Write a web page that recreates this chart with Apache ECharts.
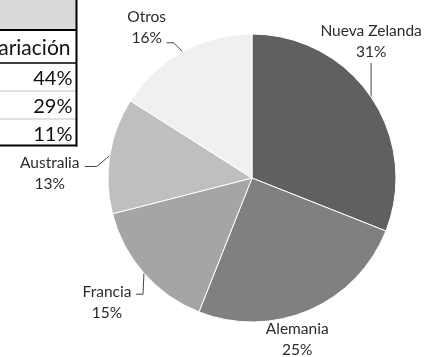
<!DOCTYPE html>
<html>
<head>
<meta charset="utf-8">
<script src="https://cdn.jsdelivr.net/npm/echarts@6/dist/echarts.min.js"></script>
<style>
  html, body { margin: 0; padding: 0; background: #fff; }
  #chart { width: 425px; height: 357px; }
</style>
</head>
<body>
<div id="chart"></div>
<script>
// Pie data: share by country
const countries = ['Nueva Zelanda', 'Alemania', 'Francia', 'Australia', 'Otros'];
const shares = [31, 25, 15, 13, 16];

// Side table column
const tableHeader = 'Variación';
const tableValues = ['44%', '29%', '11%'];

const sliceColors = ['#606060', '#808080', '#a5a5a5', '#bfbfbf', '#f0f0f0'];

// Label placement relative to the slice's outer edge point:
// [label dx, label dy, elbow dx, elbow dy, end dx, end dy]
const labelPlacement = [
  [0, -56, 0, -34, 0, -34],
  [-12, 29, 0, 0, 0, 0],
  [-37, 29, -1, 21, -8, 21],
  [-60, 18, -13, 11, -25, 11],
  [-36, -24, -9, -9, -16, -9]
];

const FONT = 'Lato, "Open Sans", sans-serif';

const chart = echarts.init(document.getElementById('chart'), null, { renderer: 'canvas' });

// Table drawn as graphic elements
const tableGraphics = [];
tableGraphics.push({
  type: 'rect', shape: { x: -10, y: -2, width: 86, height: 32 },
  style: { fill: '#d9d9d9' }, silent: true
});
const rowLines = [
  { y: 30, color: '#000', w: 2 },
  { y: 63, color: '#000', w: 1.5 },
  { y: 91, color: '#d9d9d9', w: 1.5 },
  { y: 119, color: '#d9d9d9', w: 1.5 },
  { y: 145.5, color: '#000', w: 2 }
];
rowLines.forEach(l => tableGraphics.push({
  type: 'line', shape: { x1: -10, y1: l.y, x2: 77, y2: l.y },
  style: { stroke: l.color, lineWidth: l.w }, silent: true
}));
tableGraphics.push({
  type: 'line', shape: { x1: 76.5, y1: -2, x2: 76.5, y2: 146.5 },
  style: { stroke: '#000', lineWidth: 2 }, silent: true
});
tableGraphics.push({
  type: 'text', x: 70.5, y: 48.5,
  style: { text: tableHeader, font: '21px ' + FONT, fill: '#111', align: 'right', verticalAlign: 'middle' },
  silent: true
});
tableValues.forEach((v, i) => tableGraphics.push({
  type: 'text', x: 72.5, y: 78.5 + i * 28,
  style: { text: v, font: '20px ' + FONT, fill: '#111', align: 'right', verticalAlign: 'middle' },
  silent: true
}));

chart.setOption({
  backgroundColor: '#fff',
  animation: false,
  graphic: tableGraphics,
  series: [{
    type: 'pie',
    center: [252, 178],
    radius: 144,
    startAngle: 90,
    clockwise: true,
    avoidLabelOverlap: false,
    data: countries.map((name, i) => ({
      name: name,
      value: shares[i],
      itemStyle: { color: sliceColors[i] },
      labelLine: { show: i !== 1 }
    })),
    itemStyle: { borderColor: '#fff', borderWidth: 1 },
    label: {
      show: true,
      position: 'outside',
      formatter: '{b}\n{d}%',
      fontFamily: FONT,
      fontSize: 15.5,
      lineHeight: 21,
      color: '#2b2b2b',
      align: 'center'
    },
    labelLine: {
      show: true,
      length: 10,
      length2: 10,
      lineStyle: { color: '#444', width: 1 }
    },
    labelLayout: function (params) {
      const p = params.labelLinePoints ? params.labelLinePoints[0] : [0, 0];
      const o = labelPlacement[params.dataIndex];
      return {
        x: p[0] + o[0],
        y: p[1] + o[1],
        align: 'center',
        verticalAlign: 'middle',
        labelLinePoints: [
          [p[0], p[1]],
          [p[0] + o[2], p[1] + o[3]],
          [p[0] + o[4], p[1] + o[5]]
        ]
      };
    }
  }]
});
</script>
</body>
</html>
